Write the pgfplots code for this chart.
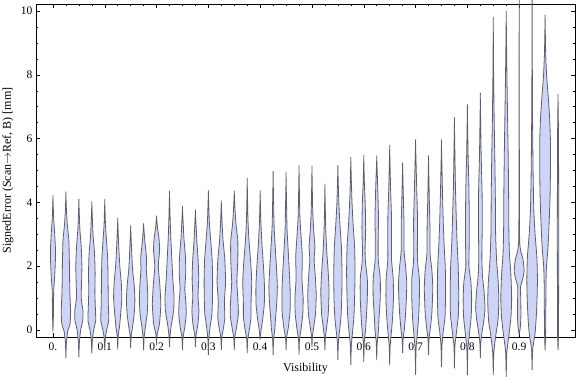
\documentclass[border=0pt]{standalone}
\usepackage{fontspec}
\setmainfont{Liberation Serif}
\usepackage{pgfplots}
\pgfplotsset{compat=1.18}
\definecolor{vfill}{RGB}{205,212,246}
\definecolor{vline}{RGB}{95,95,105}
\tikzset{violin/.style={fill=vfill, draw=vline, line width=0.8pt, line join=round, smooth, tension=0.35}}
% #1 = position index, #2 = list of value/half-width(px) pairs, bottom to top
\newcommand{\violin}[2]{%
  \gdef\vR{}\gdef\vL{}%
  \foreach \yy/\ww in {#2}{%
    \pgfmathsetmacro\xr{#1+\ww/11.0}%
    \pgfmathsetmacro\xl{#1-\ww/11.0}%
    \xdef\vR{\vR (\xr,\yy)}%
    \xdef\vL{(\xl,\yy)\vL}%
  }%
  \edef\vtmp{\noexpand\addplot[violin] coordinates {\vR\vL} -- cycle;}%
  \vtmp
}
\begin{document}
\begin{tikzpicture}
\begin{axis}[
  name=main,
  width=539pt, height=333pt, scale only axis,
  xmin=-1.31, xmax=40.31, ymin=-0.22, ymax=10.22,
  clip=false,
  axis line style={line width=0.6pt},
  tick style={black, line width=0.5pt},
  tick align=inside,
  major tick length=4pt, minor tick length=2.2pt,
  xtick={0,4,...,36},
  xticklabels={0.,0.1,0.2,0.3,0.4,0.5,0.6,0.7,0.8,0.9},
  minor x tick num=3,
  ytick={0,2,...,10},
  minor y tick num=3,
  ticklabel style={font=\fontsize{11.5}{13}\selectfont},
  xticklabel style={yshift=-2.5pt},
  /pgf/number format/assume math mode=true,
  xlabel={Visibility},
  ylabel={SignedError (Scan\ensuremath{\rightarrow}Ref, B) [mm]},
  label style={font=\fontsize{12}{14}\selectfont},
  x label style={at={(axis description cs:0.5,-0.096)}, anchor=center},
  y label style={at={(axis description cs:-0.052,0.5)}, anchor=center},
]
\violin{0}{-0.05/0, 0.5/0.4, 1.2/0.6, 1.7/1.5, 2.4/2.2, 3.0/1.5, 3.5/0.6, 4.17/0}
\violin{1}{-0.88/0, -0.4/0.4, -0.05/1.5, 0.2/3.5, 0.6/4, 1.2/3.3, 2/3, 2.8/2.5, 3.3/1.2, 3.8/0.4, 4.3/0}
\violin{2}{-0.85/0, -0.4/0.4, 0/1.5, 0.3/3.3, 0.6/3.5, 1.0/2, 1.5/2.3, 2.0/2.6, 2.6/2, 3.2/0.8, 4.04/0}
\violin{3}{-0.72/0, -0.3/0.5, 0/1.6, 0.3/3.3, 0.7/3, 1.2/2.6, 1.8/2.8, 2.4/2.3, 3.0/1, 3.95/0}
\violin{4}{-0.63/0, -0.25/0.5, 0/1.6, 0.3/3.4, 0.8/3, 1.5/2.8, 2.2/2.5, 2.8/1.5, 3.3/0.6, 4.04/0}
\violin{5}{-0.6/0, -0.2/0.4, 0.1/1.5, 0.5/2.5, 1.0/3.5, 1.5/3, 2.0/1.8, 2.6/0.9, 3.45/0}
\violin{6}{-0.56/0, -0.2/0.4, 0.1/1.6, 0.5/3, 0.95/3.6, 1.4/3, 1.9/1.6, 2.5/0.8, 3.23/0}
\violin{7}{-0.63/0, -0.25/0.4, 0.1/1.5, 0.5/3, 1.0/3.6, 1.5/3, 1.9/2.3, 2.3/2.4, 2.8/1, 3.3/0}
\violin{8}{-0.47/0, -0.15/0.5, 0.2/2.5, 0.8/3.6, 1.4/2.8, 2.0/1.5, 2.5/2.6, 2.9/2, 3.2/0.8, 3.55/0}
\violin{9}{-0.53/0, -0.2/0.4, 0.15/1.5, 0.6/3.5, 1.05/3.8, 1.6/2.8, 2.2/2, 2.8/1.2, 3.4/0.6, 4.29/0}
\violin{10}{-0.63/0, -0.25/0.4, 0.1/2, 0.5/3.2, 0.9/2.8, 1.3/2, 1.8/2.8, 2.3/2.5, 2.9/1.2, 3.82/0}
\violin{11}{-0.53/0, -0.2/0.4, 0.15/2, 0.6/3, 1.05/2.2, 1.6/2.8, 2.2/2.3, 2.8/1.2, 3.7/0}
\violin{12}{-0.78/0, -0.3/0.4, 0.1/1.5, 0.5/3, 1.0/3.5, 1.6/3.6, 2.2/3.2, 2.8/2, 3.4/0.8, 4.3/0}
\violin{13}{-0.63/0, -0.25/0.4, 0.1/2, 0.4/3, 0.9/2.6, 1.5/3.6, 2.2/3, 2.8/1.5, 3.3/0.7, 4.0/0}
\violin{14}{-0.63/0, -0.25/0.4, 0.1/2, 0.5/3.5, 1.0/3, 1.5/2.2, 2.2/3, 2.8/3, 3.3/1.5, 3.8/0.6, 4.33/0}
\violin{15}{-0.72/0, -0.3/0.4, 0.05/2, 0.4/3.2, 0.9/3.3, 1.5/3.8, 2.1/3, 2.8/1.5, 3.5/0.6, 4.67/0}
\violin{16}{-0.3/0, 0/0.8, 0.3/2, 0.8/3.5, 1.4/3.6, 2.0/2.8, 2.7/1.5, 3.4/0.6, 4.3/0}
\violin{17}{-0.78/0, -0.3/0.4, 0.05/1.5, 0.35/2, 0.8/3, 1.35/3.6, 2.0/2.8, 2.6/1.8, 3.3/0.8, 4.86/0}
\violin{18}{-0.63/0, -0.25/0.4, 0.1/2, 0.6/3.4, 1.2/3.5, 1.8/2.8, 2.5/1.8, 3.2/0.8, 4.83/0}
\violin{19}{-0.78/0, -0.3/0.4, 0.1/2, 0.5/3.2, 1.0/3.5, 1.6/2.5, 2.3/2.8, 2.9/1.8, 3.6/0.7, 5.05/0}
\violin{20}{-0.53/0, -0.2/0.4, 0.1/1.5, 0.5/3, 1.1/3.6, 1.7/2.8, 2.2/1.8, 2.6/2.5, 3.1/1.5, 3.8/0.6, 5.05/0}
\violin{21}{-0.63/0, -0.25/0.4, 0.1/1.5, 0.5/2.8, 1.2/3.5, 1.8/2.8, 2.5/1.5, 3.3/0.6, 4.49/0}
\violin{22}{-0.94/0, -0.4/0.4, 0/1.5, 0.4/2.6, 1.0/3.3, 1.8/3.5, 2.6/3, 3.3/1.8, 4.0/0.8, 5.08/0}
\violin{23}{-1.1/0, -0.5/0.4, -0.05/1.5, 0.4/2.6, 1.0/3.2, 1.8/3.6, 2.6/3.2, 3.4/1.8, 4.2/0.8, 5.33/0}
\violin{24}{-1.0/0, -0.4/0.4, 0/1.5, 0.4/2.2, 1.0/3, 1.6/3, 2.1/1.5, 2.5/1.1, 3.2/1.6, 4.0/1.2, 4.6/0.5, 5.42/0}
\violin{25}{-0.94/0, -0.4/0.4, 0/1.5, 0.4/2, 1.0/3, 1.6/3, 2.2/1.3, 2.8/1.2, 3.5/1.5, 4.3/1, 5.38/0}
\violin{26}{-1.1/0, -0.5/0.4, -0.05/1.5, 0.4/2.5, 1.0/3.2, 1.6/3, 2.2/1.6, 2.8/1.6, 3.6/1.5, 4.4/0.8, 5.7/0}
\violin{27}{-0.72/0, -0.3/0.4, 0.05/1.5, 0.5/2.5, 1.0/3.2, 1.5/3.5, 2.0/2.5, 2.5/1.2, 3.3/1.2, 4.2/0.6, 5.17/0}
\violin{28}{-1.4/0, -0.6/0.4, -0.1/1.5, 0.4/2.6, 1.0/3.2, 1.6/3.2, 2.1/1.8, 2.6/1.5, 3.4/1.7, 4.4/1, 5.86/0}
\violin{29}{-0.78/0, -0.3/0.4, 0.05/1.5, 0.5/2.8, 1.3/3.6, 1.9/2.8, 2.4/1.3, 3.2/1.2, 4.2/0.6, 5.38/0}
\violin{30}{-1.15/0, -0.5/0.4, -0.05/1.5, 0.4/3, 1.2/3.5, 2.0/3.2, 2.7/2.2, 3.4/1.5, 4.4/0.8, 5.86/0}
\violin{31}{-1.2/0, -0.5/0.4, -0.05/1.8, 0.5/3.4, 1.2/3.6, 2.0/3.2, 2.8/2.2, 3.6/1.5, 4.6/0.8, 6.52/0}
\violin{32}{-1.41/0, -0.6/0.4, -0.1/1.8, 0.4/3.2, 0.95/3.6, 1.5/3, 2.0/1.3, 2.6/1.5, 3.5/1.6, 4.5/1.3, 5.5/0.6, 6.96/0}
\violin{33}{-0.88/0, -0.4/0.4, -0.05/1.5, 0.3/3, 0.7/4, 1.2/3.2, 1.7/1.8, 2.3/1.3, 3.2/1.6, 4.3/1.5, 5.5/0.7, 7.3/0}
\violin{34}{-1.41/0, -0.7/0.5, -0.15/2.2, 0.3/4, 0.9/4.7, 1.5/4.2, 2.2/2.8, 3.0/2, 4.0/1.8, 5.2/1.4, 6.5/0.8, 8.0/0.3, 9.69/0}
\violin{35}{-1.47/0, -0.7/0.5, -0.1/2.5, 0.4/4, 1.0/4.6, 1.7/4, 2.4/2.7, 3.2/2.2, 4.4/2, 5.6/1.6, 7.0/1, 8.5/0.4, 9.9/0}
\violin{36}{-0.15/0, 0.1/1, 0.5/1.5, 1.0/1.3, 1.35/1.2, 1.6/3, 1.85/4.2, 2.2/3.3, 2.5/1.2, 2.8/0.4, 4/0.2, 10.34/0}
\violin{37}{-1.25/0, -0.6/0.5, -0.1/2.5, 0.4/3.5, 1.0/4.2, 1.6/4.5, 2.3/4, 3.0/2.5, 3.8/1.4, 5/0.8, 7/0.3, 10.34/0}
\violin{38}{-0.63/0, -0.2/0.4, 0.5/0.6, 1.5/0.8, 2.0/1.2, 2.6/2.5, 3.4/3.5, 4.3/4.3, 5.2/4.6, 6.0/4.5, 6.7/3.8, 7.4/2.5, 8.0/1.3, 8.7/0.5, 9.8/0}
\violin{39}{-0.63/0, 0/0.4, 3/0.6, 6/0.4, 7.3/0}
\end{axis}
\pgfresetboundingbox
\path[use as bounding box] ([shift={(-36pt,-40pt)}]main.south west) rectangle ([shift={(1pt,4pt)}]main.north east);
\end{tikzpicture}
\end{document}
